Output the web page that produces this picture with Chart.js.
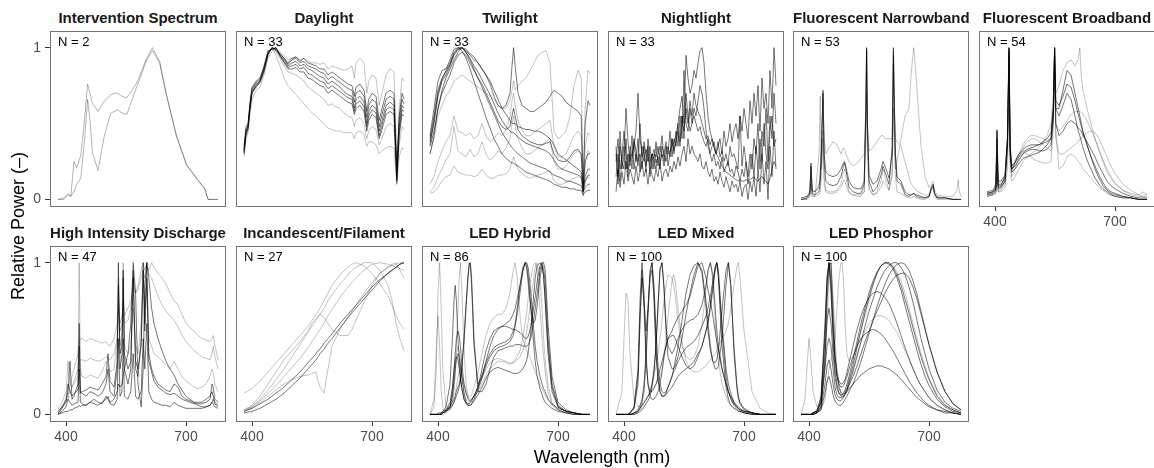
<!DOCTYPE html>
<html><head><meta charset="utf-8">
<script src="https://cdn.jsdelivr.net/npm/chart.js@4/dist/chart.umd.min.js"></script>
<style>
body{margin:0;background:#fff;width:1154px;height:468px;position:relative;overflow:hidden;font-family:"Liberation Sans",Arial,sans-serif}
canvas{position:absolute}
.ttl{position:absolute;width:176px;text-align:center;font-weight:bold;font-size:15px;line-height:18px;color:#1a1a1a;white-space:nowrap}
.nlab{position:absolute;font-size:13px;line-height:15px;color:#000;white-space:nowrap}
.axt{position:absolute;font-size:18px;line-height:22px;color:#000;white-space:nowrap;text-align:center}
</style></head><body>
<script>
// ---------- labels ----------
const titles = ['Intervention Spectrum','Daylight','Twilight','Nightlight','Fluorescent Narrowband','Fluorescent Broadband','High Intensity Discharge','Incandescent/Filament','LED Hybrid','LED Mixed','LED Phosphor'];
const nValues = [2,33,33,33,53,54,47,27,86,100,100];
const xTicks = [400,700];
const yTicks = [0,1];
const xTitle = 'Wavelength (nm)';
const yTitle = 'Relative Power (\u2013)';

// ---------- Intervention ----------
const intWl = [380,395,405,412,420, 427,437,445,454,460, 466,480,496,512,521, 529,540,552,575,584, 600,616,634,651,676, 701,726,747,755,780];
const int1 = [0,.01,.04,.02,.25, .21,.29,.49,.76,.70, .63,.58,.65,.69,.70, .70,.68,.67,.76,.81, .92,1.0,.91,.69,.42, .23,.14,.07,0,0];
const int2 = [0,0,.03,.02,.05, .10,.14,.35,.66,.52, .31,.19,.42,.57,.58, .59,.57,.56,.73,.79, .91,.98,.90,.69,.42, .23,.14,.07,0,0];

// ---------- Daylight ----------
const dayWl = [380,385,390,395,400, 410,420,430,440,450, 460,470,480,490,500, 510,520,530,540,550, 560,570,580,590,600, 610,620,630,640,650, 656,660,670,680,687, 692,700,710,718,725, 735,745,755,762,768, 775,780];
const day1 = [.32,.45,.48,.62,.72, .76,.78,.86,.97,1.0, .99,.96,.93,.90,.93, .94,.91,.93,.90,.89, .88,.86,.86,.82,.84, .82,.80,.78,.76,.75, .68,.74,.76,.72,.58, .66,.70,.68,.52,.60, .70,.72,.70,.20,.55, .70,.66];
const day2 = [.30,.42,.46,.60,.70, .74,.77,.84,.95,1.0, .98,.95,.92,.88,.90, .91,.88,.89,.86,.85, .83,.81,.80,.76,.78, .76,.74,.71,.69,.68, .60,.66,.68,.64,.50, .58,.62,.60,.45,.52, .62,.64,.62,.15,.48, .62,.60];
const day3 = [.35,.48,.50,.64,.74, .78,.80,.88,.98,.99, 1.0,.94,.90,.86,.86, .87,.84,.84,.80,.79, .77,.75,.74,.70,.72, .70,.68,.66,.64,.63, .56,.60,.62,.58,.45, .52,.56,.54,.40,.46, .56,.58,.56,.12,.42, .56,.55];
const day4 = [.28,.40,.44,.56,.66, .72,.74,.82,.93,.98, 1.0,.97,.95,.92,.93, .94,.92,.93,.91,.90, .90,.89,.90,.86,.88, .87,.86,.85,.86,.88, .80,.90,.93,.90,.70, .78,.82,.80,.62,.70, .82,.86,.84,.25,.60, .80,.78];
const day5 = [.30,.44,.47,.60,.70, .74,.78,.85,.96,1.0, .97,.93,.88,.84,.83, .82,.80,.78,.74,.72, .70,.68,.66,.62,.63, .61,.60,.57,.55,.54, .48,.52,.54,.50,.40, .45,.48,.46,.36,.40, .48,.50,.48,.10,.36, .48,.46];
const day6 = [.32,.45,.48,.60,.70, .75,.78,.86,.96,1.0, .95,.88,.80,.75,.72, .69,.66,.63,.60,.57, .55,.52,.50,.47,.46, .45,.45,.44,.44,.44, .40,.44,.45,.43,.35, .38,.38,.36,.30,.32, .34,.35,.34,.10,.28, .34,.33];
const day7 = [.31,.44,.47,.61,.71, .75,.78,.85,.96,1.0, .99,.96,.93,.89,.92, .93,.90,.91,.88,.87, .86,.84,.83,.79,.81, .79,.77,.75,.73,.72, .64,.70,.72,.68,.54, .62,.66,.64,.48,.56, .66,.68,.66,.18,.52, .66,.63];
const day8 = [.33,.46,.49,.63,.73, .77,.79,.87,.97,.99, 1.0,.95,.91,.87,.88, .89,.86,.87,.83,.82, .80,.78,.77,.73,.75, .73,.71,.69,.67,.66, .58,.63,.65,.61,.48, .55,.59,.57,.42,.49, .59,.61,.59,.13,.45, .59,.58];

// ---------- Twilight ----------
const twiWl = [380,390,400,410,420, 430,440,450,460,470, 480,490,500,510,520, 530,540,550,560,570, 580,585,589,593,600, 610,620,630,640,650, 660,670,680,690,700, 710,720,730,740,750, 758,763,768,775,780];
const tw1 = [.40,.55,.72,.80,.85, .90,.97,1.0,1.0,.97, .92,.86,.80,.74,.68, .62,.56,.50,.44,.40, .36,.34,.33,.32,.30, .28,.26,.24,.23,.22, .21,.20,.18,.16,.15, .14,.12,.12,.11,.10, .09,.05,.08,.10,.10];
const tw2 = [.38,.50,.68,.78,.82, .88,.95,.99,1.0,.98, .95,.92,.90,.86,.82, .78,.72,.66,.60,.56, .52,.50,.50,.50,.48, .47,.46,.46,.45,.45, .44,.42,.40,.36,.30, .28,.26,.24,.22,.20, .18,.08,.15,.20,.20];
const tw3 = [.35,.45,.60,.72,.80, .86,.92,.97,1.0,.99, .96,.94,.90,.86,.82, .76,.68,.62,.60,.62, .70,.88,1.0,.88,.70, .62,.60,.58,.58,.60, .62,.64,.68,.72,.70, .68,.64,.62,.60,.58, .55,.10,.50,.65,.62];
const tw4 = [.30,.40,.55,.62,.68, .72,.78,.80,.82,.80, .78,.76,.74,.72,.70, .68,.66,.62,.60,.60, .65,.72,.78,.72,.75, .78,.80,.85,.90,.95, .97,.98,.90,.45,.40, .42,.45,.55,.75,.85, .80,.10,.60,.85,.83];
const tw5 = [.05,.08,.15,.20,.26, .30,.48,.32,.30,.28, .33,.28,.30,.38,.30, .26,.28,.32,.30,.34, .40,.50,.55,.48,.40, .34,.30,.30,.32,.34, .36,.38,.40,.25,.20, .20,.22,.26,.30,.32, .30,.04,.25,.32,.30];
const tw6 = [.04,.05,.08,.12,.15, .16,.22,.18,.17,.16, .16,.15,.16,.20,.16, .14,.14,.16,.16,.17, .20,.25,.28,.25,.20, .17,.15,.14,.15,.16, .17,.18,.19,.12,.10, .10,.11,.12,.14,.15, .14,.02,.12,.15,.14];
const tw7 = [.30,.42,.60,.70,.76, .82,.90,.95,.97,.95, .90,.85,.80,.76,.70, .64,.58,.52,.48,.46, .48,.55,.60,.55,.46, .42,.40,.38,.37,.36, .36,.37,.38,.30,.26, .25,.25,.28,.32,.33, .30,.05,.25,.30,.30];
const tw8 = [.42,.60,.78,.85,.86, .92,.99,1.0,.98,.93, .86,.78,.70,.62,.54, .47,.40,.35,.30,.27, .25,.24,.24,.23,.22, .20,.18,.17,.16,.15, .14,.13,.12,.10,.09, .08,.08,.07,.07,.06, .06,.03,.05,.06,.06];
const tw9 = [.10,.15,.25,.32,.38, .42,.55,.45,.44,.42, .44,.40,.42,.50,.42, .38,.40,.44,.42,.46, .55,.65,.70,.62,.52, .46,.42,.42,.44,.46, .48,.50,.52,.35,.28, .28,.30,.36,.42,.45, .42,.06,.35,.44,.42];
const tw10 = [.36,.52,.70,.79,.84, .89,.96,.99,1.0,.97, .93,.88,.84,.79,.74, .69,.63,.57,.52,.48, .45,.44,.44,.43,.41, .39,.37,.36,.35,.34, .33,.32,.30,.26,.22, .20,.19,.18,.17,.16, .15,.06,.12,.16,.16];

// ---------- Nightlight ----------
const nightWl = [380,385,390,395,400,405,410,415,420,425, 430,435,440,445,450,455,460,465,470,475, 480,485,490,495,500,505,510,515,520,525, 530,535,540,545,550,555,560,565,570,575, 580,585,590,595,600,605,610,615,620,625, 630,635,640,645,650,655,660,665,670,675, 680,685,690,695,700,705,710,715,720,725, 730,735,740,745,750,755,760,765,770,775, 780];
const nl1 = [.15,.30,.12,.25,.35,.20,.30,.22,.28,.35, .45,.70,.40,.30,.25,.33,.28,.22,.30,.26, .20,.30,.35,.28,.30,.25,.30,.32,.35,.38, .42,.50,.60,.68,.50,.95,.80,.70,.75,.85, .80,.90,.98,1.0,.90,.70,.55,.45,.40,.35, .30,.28,.25,.22,.20,.18,.17,.16,.15,.14, .13,.12,.13,.12,.12,.13,.12,.13,.14,.15, .13,.12,.14,.15,.13,.12,.10,.14,.20,.25, .22];
const nl2 = [.35,.10,.45,.20,.30,.60,.38,.25,.42,.20, .30,.22,.50,.28,.35,.18,.40,.25,.30,.20, .38,.22,.30,.42,.25,.35,.30,.45,.28,.40, .35,.50,.38,.55,.45,.60,.50,.65,.55,.70, .62,.58,.55,.50,.45,.40,.42,.36,.40,.34, .30,.38,.28,.32,.25,.30,.22,.35,.28,.30, .25,.20,.55,.22,.35,.25,.15,.30,.20,.40, .30,.50,.20,.45,.35,.60,.25,.55,.40,.70, .50];
const nl3 = [.05,.20,.08,.18,.10,.25,.12,.20,.15,.10, .22,.12,.18,.25,.15,.20,.10,.22,.16,.12, .20,.15,.25,.12,.18,.20,.15,.22,.18,.25, .20,.28,.22,.30,.35,.25,.40,.30,.35,.30, .28,.25,.30,.22,.20,.25,.18,.15,.20,.12, .15,.10,.18,.12,.08,.15,.10,.05,.12,.08, .10,.05,.12,.02,.08,.10,.00,.12,.05,.15, .02,.20,.05,.30,.10,.25,.00,.35,.15,.45, .20];
const nl4 = [.25,.40,.20,.30,.45,.30,.20,.35,.28,.40, .32,.25,.30,.20,.38,.30,.25,.35,.20,.30, .28,.35,.25,.30,.22,.30,.35,.28,.40,.30, .45,.35,.55,.40,.85,.50,.45,.60,.50,.55, .50,.45,.48,.42,.38,.35,.40,.30,.35,.38, .30,.35,.40,.30,.45,.35,.40,.50,.38,.45, .50,.40,.55,.45,.60,.50,.40,.65,.50,.70, .55,.75,.45,.80,.60,.70,.50,.85,.60,1.0, .75];
const nl5 = [.30,.15,.35,.25,.20,.40,.15,.30,.20,.38, .25,.40,.18,.35,.30,.22,.35,.15,.28,.33, .24,.28,.20,.35,.30,.38,.22,.30,.40,.32, .38,.45,.35,.55,.40,.70,.55,.45,.50,.60, .55,.65,.75,.70,.60,.45,.35,.30,.25,.30, .22,.25,.20,.28,.18,.22,.25,.18,.20,.15, .22,.18,.12,.20,.15,.25,.10,.20,.30,.15, .35,.20,.40,.25,.50,.30,.20,.45,.55,.35, .40];

// ---------- Fluorescent Narrowband ----------
const fnWl = [380,395,402,405,408,415,425,428,431,435, 438,442,450,460,470,480,486,489,492,500, 510,520,530,538,542,544,546,550,560,570, 580,585,590,600,608,611,613,616,620,630, 640,650,656,662,668,680,690,700,706,710, 714,720,740,760,770,773,776,780];
const fn1 = [.00,.01,.04,.24,.04,.03,.05,.10,.30,.72, .25,.12,.10,.09,.10,.15,.22,.24,.20,.08, .05,.04,.04,.10,.60,1.0,.50,.12,.05,.08, .16,.22,.18,.10,.35,1.0,.70,.30,.12,.10, .03,.02,.03,.04,.02,.01,.01,.02,.08,.10, .04,.01,.01,.00,.00,.00,.00,.00];
const fn2 = [.00,.00,.02,.15,.03,.02,.30,.68,.20,.45, .15,.06,.05,.05,.06,.10,.18,.20,.15,.05, .03,.02,.02,.05,.50,.98,.40,.08,.03,.05, .12,.20,.15,.06,.20,.90,.50,.15,.05,.04, .02,.01,.01,.02,.01,.00,.00,.01,.06,.08, .02,.00,.00,.00,.00,.00,.00,.00];
const fn3 = [.00,.01,.03,.20,.05,.05,.10,.20,.40,.66, .40,.30,.34,.38,.36,.30,.34,.33,.30,.25, .22,.24,.27,.30,.60,1.0,.50,.32,.34,.38, .42,.42,.40,.40,.40,.98,.60,.40,.38,.35, .25,.15,.10,.08,.06,.04,.03,.03,.08,.10, .04,.02,.01,.00,.00,.00,.00,.00];
const fn4 = [.00,.00,.02,.10,.02,.02,.03,.05,.15,.40, .10,.05,.04,.04,.05,.08,.12,.13,.10,.04, .03,.03,.03,.05,.40,.70,.30,.06,.03,.04, .08,.12,.10,.06,.15,.60,.40,.20,.25,.40, .55,.60,.85,1.0,.80,.35,.15,.08,.10,.12, .06,.03,.02,.02,.06,.13,.05,.02];
const fn5 = [.01,.02,.05,.22,.06,.05,.08,.14,.32,.70, .30,.18,.16,.15,.16,.20,.24,.25,.22,.12, .08,.07,.07,.12,.55,.98,.50,.16,.10,.12, .20,.25,.22,.14,.30,.95,.65,.30,.15,.12, .05,.03,.03,.04,.03,.02,.01,.02,.07,.09, .04,.01,.01,.00,.00,.00,.00,.00];

// ---------- Fluorescent Broadband ----------
const fbWl = [380,395,402,405,408,415,425,431,435,438, 442,450,460,470,480,490,500,510,520,530, 540,546,549,552,560,570,580,590,600,608, 612,616,620,630,640,650,660,670,680,690, 700,720,740,760,770,780];
const fb1 = [.04,.05,.08,.45,.10,.10,.15,.40,1.0,.35, .22,.25,.30,.33,.35,.36,.36,.36,.37,.38, .40,.60,1.0,.50,.42,.45,.50,.52,.50,.47, .46,.45,.42,.38,.33,.28,.22,.17,.12,.09, .07,.04,.02,.01,.01,.01];
const fb2 = [.03,.04,.06,.30,.08,.08,.12,.35,.95,.30, .18,.20,.24,.27,.28,.29,.30,.31,.33,.36, .40,.60,.98,.60,.60,.72,.85,.82,.70,.60, .55,.50,.45,.36,.28,.20,.14,.09,.06,.04, .03,.02,.01,.00,.00,.00];
const fb3 = [.02,.03,.04,.15,.05,.05,.08,.20,.60,.20, .12,.15,.20,.25,.28,.30,.32,.34,.38,.42, .50,.70,1.0,.70,.75,.85,.90,.92,.88,.92, 1.0,.80,.72,.60,.50,.40,.32,.25,.18,.14, .10,.06,.04,.03,.05,.03];
const fb4 = [.02,.03,.04,.20,.05,.06,.10,.30,.85,.25, .15,.20,.28,.34,.38,.40,.40,.38,.36,.34, .32,.50,.90,.40,.30,.30,.32,.34,.36,.38, .40,.40,.42,.44,.45,.44,.40,.34,.28,.22, .17,.10,.06,.03,.02,.02];
const fb5 = [.05,.06,.10,.46,.12,.12,.16,.40,.98,.35, .20,.22,.26,.30,.32,.33,.33,.32,.32,.33, .36,.55,1.0,.60,.55,.62,.70,.66,.55,.45, .42,.38,.34,.26,.20,.14,.10,.07,.05,.03, .02,.01,.01,.00,.00,.00];
const fb6 = [.02,.03,.05,.20,.06,.07,.12,.35,1.0,.30, .20,.25,.30,.32,.30,.28,.26,.25,.24,.24, .25,.50,1.0,.45,.20,.22,.28,.30,.28,.25, .24,.22,.20,.17,.14,.11,.08,.06,.04,.03, .02,.01,.01,.00,.00,.00];
const fb7 = [.04,.05,.07,.40,.09,.09,.14,.38,1.0,.32, .20,.24,.28,.31,.33,.34,.35,.36,.38,.40, .44,.62,1.0,.65,.62,.68,.76,.74,.65,.56, .52,.48,.44,.36,.28,.22,.16,.11,.07,.05, .04,.02,.01,.00,.00,.00];
const fb8 = [.03,.04,.06,.25,.07,.08,.13,.35,.90,.28, .18,.24,.30,.36,.40,.42,.42,.41,.40,.39, .40,.55,.95,.50,.45,.48,.52,.56,.58,.58, .58,.57,.56,.52,.46,.40,.33,.26,.20,.15, .11,.06,.03,.02,.02,.04];

// ---------- High Intensity Discharge ----------
const hidWl = [380,390,400,405,410,415,420,430,433,436, 440,450,460,470,480,490,500,505,510,520, 528,531,535,540,543,546,555,562,568,574, 580,588,593,597,602,607,614,620,630,640, 650,660,670,680,690,700,710,720,730,740, 750,760,765,768,772,780];
const hid1 = [.02,.05,.08,.15,.35,.10,.12,.20,.60,.15, .14,.12,.15,.14,.12,.14,.20,.30,.15,.12, .30,1.0,.30,.40,.90,.30,.20,.30,.95,.30, .25,.50,1.0,.60,1.0,.40,.30,.25,.20,.18, .16,.15,.20,.18,.12,.10,.09,.08,.08,.08, .10,.12,.15,.12,.08,.06];
const hid2 = [.00,.05,.10,.12,.20,.25,.30,.40,.47,.50, .50,.48,.50,.49,.48,.47,.48,.46,.45,.50, .60,.75,.60,.65,.70,.65,.70,.75,.85,.80, .82,.90,.95,.90,.98,.95,1.0,.97,.93,.90, .86,.80,.75,.72,.66,.60,.57,.55,.52,.50, .49,.48,.50,.52,.46,.36];
const hid3 = [.00,.01,.02,.02,.03,.03,.04,.05,.06,.05, .06,.06,.08,.10,.08,.07,.12,.10,.08,.10, .15,.20,.18,.20,.25,.30,.40,.60,1.0,.80, .20,.05,.30,.85,1.0,.90,.70,.60,.50,.42, .35,.30,.26,.20,.16,.12,.10,.08,.06,.05, .05,.06,.08,.10,.07,.05];
const hid4 = [.03,.08,.15,.35,.20,.18,.20,.25,1.0,.30, .25,.24,.26,.25,.24,.28,.35,.32,.28,.30, .50,.90,.45,.50,1.0,.45,.40,.45,.70,.45, .40,.60,.90,.70,.85,.50,.45,.40,.38,.35, .33,.30,.35,.30,.25,.22,.20,.18,.17,.18, .20,.25,.30,.28,.20,.15];
const hid5 = [.00,.02,.05,.10,.08,.06,.07,.08,.30,.08, .07,.06,.08,.07,.06,.08,.10,.12,.07,.06, .10,.50,.12,.15,.50,.12,.10,.15,.40,.12, .10,.15,.50,.30,.60,.15,.10,.08,.07,.06, .06,.05,.08,.06,.05,.04,.04,.04,.04,.04, .05,.06,.08,.07,.05,.04];
const hid6 = [.01,.04,.10,.20,.15,.12,.14,.16,.45,.14, .15,.16,.18,.17,.16,.20,.25,.40,.22,.18, .35,.85,.40,.45,.95,.40,.30,.35,.90,.35, .30,.45,.95,.55,.90,.35,.28,.22,.18,.16, .14,.13,.14,.12,.10,.09,.08,.07,.07,.07, .08,.10,.20,.18,.10,.08];
const hid7 = [.00,.04,.08,.10,.15,.18,.22,.30,.35,.36, .36,.35,.37,.36,.35,.36,.38,.37,.36,.40, .50,.70,.55,.60,.75,.60,.62,.70,.90,.80, .85,.95,1.0,.95,1.0,.92,.90,.85,.78,.72, .68,.65,.62,.58,.52,.48,.45,.42,.40,.38, .37,.36,.40,.45,.38,.30];

// ---------- Incandescent/Filament ----------
const incWl = [380,400,420,440,460,480,500,520,540,550, 560,565,570,580,590,600,620,640,650,660, 680,700,720,740,750,760,770,780];
const inc1 = [.02,.04,.07,.10,.14,.18,.23,.28,.34,.37, .40,.42,.43,.47,.50,.53,.60,.66,.69,.72, .78,.84,.89,.93,.95,.97,.99,1.0];
const inc2 = [.01,.02,.04,.07,.10,.14,.19,.24,.30,.33, .36,.38,.40,.43,.47,.50,.57,.64,.67,.70, .76,.82,.88,.93,.95,.97,.99,1.0];
const inc3 = [.14,.17,.22,.28,.34,.40,.46,.52,.58,.62, .66,.68,.70,.75,.80,.85,.92,.97,.99,1.0, .98,.93,.86,.78,.72,.65,.60,.56];
const inc4 = [.02,.04,.08,.12,.16,.20,.23,.25,.26,.27, .28,.22,.18,.14,.30,.45,.56,.64,.68,.72, .80,.87,.93,.97,.98,.99,1.0,1.0];
const inc5 = [.03,.06,.12,.20,.28,.36,.42,.48,.55,.60, .63,.65,.66,.64,.60,.56,.52,.52,.56,.62, .74,.85,.93,.97,.99,1.0,.95,.90];
const inc6 = [.02,.05,.10,.16,.23,.30,.38,.46,.54,.58, .62,.64,.66,.70,.75,.79,.86,.92,.95,.97, 1.0,1.0,.95,.85,.75,.60,.50,.42];
const inc7 = [.03,.05,.09,.14,.19,.25,.31,.37,.44,.48, .52,.54,.56,.60,.65,.69,.77,.84,.87,.90, .95,.99,1.0,.99,.98,.97,.96,.95];

// ---------- LED Hybrid ----------
const hyWl = [380,390,396,400,404,408,412,420,430,436, 440,443,446,450,453,456,459,465,470,475, 478,481,484,490,500,510,520,530,540,550, 560,570,580,588,593,598,605,612,618,622, 626,632,638,643,648,655,660,664,668,675, 685,700,720,740,760,780];
const hy1 = [0,0,0,.01,.01,.01,.02,.03,.05,.08, .10,.12,.15,.18,.20,.25,.30,.50,.70,.90, .98,1.0,.90,.50,.15,.15,.20,.30,.38,.42, .43,.44,.45,.45,.46,.46,.46,.45,.45,.45, .46,.50,.60,.70,.80,.95,1.0,1.0,.95,.60, .25,.08,.03,.01,0,0];
const hy2 = [0,0,0,0,0,0,.01,.02,.06,.15, .28,.40,.50,.55,.52,.45,.35,.20,.14,.10, .09,.09,.10,.12,.18,.30,.42,.50,.55,.57, .58,.60,.62,.66,.70,.76,.85,.95,1.0,1.0, .96,.80,.60,.45,.35,.25,.20,.17,.15,.10, .07,.04,.02,.01,0,0];
const hy3 = [0,0,0,0,0,0,0,.01,.03,.08, .15,.25,.45,.70,.90,1.0,.85,.45,.20,.12, .10,.10,.10,.12,.15,.20,.26,.30,.33,.35, .35,.34,.33,.34,.36,.38,.42,.50,.60,.68, .78,.90,.98,1.0,.95,.70,.50,.38,.28,.15, .07,.03,.01,0,0,0];
const hy4 = [0,.05,.30,.80,1.0,.70,.30,.05,.03,.05, .08,.12,.18,.25,.28,.30,.28,.20,.15,.12, .12,.12,.13,.18,.28,.40,.52,.60,.64,.66, .66,.70,.80,.95,1.0,.90,.65,.50,.45,.42, .40,.36,.32,.28,.25,.20,.17,.15,.13,.10, .06,.03,.01,0,0,0];
const hy5 = [0,0,0,0,0,0,.01,.02,.05,.12, .22,.30,.36,.40,.38,.32,.25,.14,.08,.06, .06,.06,.07,.09,.13,.18,.24,.28,.30,.31, .30,.29,.28,.27,.27,.27,.28,.30,.33,.36, .42,.55,.75,.90,.98,1.0,.98,.90,.75,.45, .18,.05,.02,.01,0,0];
const hy6 = [0,0,0,0,0,.01,.02,.05,.20,.50, .75,.85,.75,.50,.35,.25,.18,.10,.08,.07, .07,.08,.09,.12,.18,.26,.34,.40,.44,.46, .47,.48,.50,.55,.60,.70,.85,.97,1.0,.98, .90,.70,.50,.35,.25,.17,.13,.10,.08,.06, .04,.02,.01,0,0,0];
const hy7 = [0,.10,.45,.65,.45,.15,.05,.02,.04,.10, .20,.30,.40,.45,.42,.35,.28,.15,.10,.08, .08,.08,.09,.12,.18,.24,.30,.34,.36,.37, .36,.35,.34,.34,.35,.36,.38,.42,.48,.55, .62,.75,.88,.97,1.0,.90,.70,.50,.35,.20, .08,.03,.01,0,0,0];
const hy8 = [0,0,0,0,0,.01,.01,.02,.04,.06, .08,.10,.12,.15,.18,.22,.28,.48,.72,.92, 1.0,.98,.85,.45,.20,.25,.35,.45,.52,.56, .58,.58,.57,.56,.56,.55,.54,.52,.50,.50, .52,.58,.68,.78,.88,.98,1.0,.96,.88,.50, .20,.06,.02,.01,0,0];
const hy9 = [0,0,0,0,0,0,.01,.03,.08,.18, .30,.36,.38,.36,.30,.24,.18,.10,.07,.06, .06,.06,.07,.10,.16,.24,.32,.38,.42,.44, .45,.46,.48,.52,.58,.66,.80,.94,1.0,.96, .85,.70,.60,.62,.72,.90,.98,.92,.75,.40, .15,.05,.02,.01,0,0];

// ---------- LED Mixed ----------
const mxWl = [380,395,400,405,410,415,425,435,440,445, 450,455,460,465,470,475,480,485,490,495, 500,505,510,520,524,528,535,545,555,565, 575,585,595,605,610,616,622,628,632,636, 645,655,661,667,675,682,686,690,700,720, 740,760,780];
const mx1 = [0,0,0,0,0,.01,.05,.30,.75,1.0, .80,.40,.20,.12,.10,.10,.12,.15,.20,.28, .38,.45,.50,.52,.52,.50,.45,.38,.32,.30, .32,.38,.45,.55,.62,.72,.85,.97,1.0,.90, .45,.18,.10,.06,.04,.03,.02,.02,.01,0, 0,0,0];
const mx2 = [0,0,0,0,0,0,.01,.03,.06,.10, .20,.40,.70,.95,1.0,.85,.55,.32,.20,.15, .14,.15,.18,.25,.30,.35,.45,.62,.80,.92, .98,1.0,.95,.75,.60,.45,.35,.30,.30,.32, .50,.85,1.0,.85,.45,.20,.12,.08,.04,.01, 0,0,0];
const mx3 = [0,0,0,0,0,0,0,.02,.04,.06, .08,.10,.12,.15,.20,.30,.45,.70,.95,1.0, .85,.60,.45,.40,.42,.45,.50,.56,.60,.62, .63,.66,.72,.85,.95,1.0,.92,.70,.55,.45, .30,.20,.15,.12,.08,.06,.05,.04,.02,.01, 0,0,0];
const mx4 = [0,.15,.50,.80,.75,.40,.10,.05,.05,.06, .08,.10,.12,.14,.16,.18,.20,.22,.25,.30, .38,.50,.65,.88,.92,.88,.70,.48,.35,.30, .28,.28,.30,.32,.34,.36,.38,.40,.42,.45, .50,.55,.60,.70,.85,.97,1.0,.90,.55,.15, .04,.01,0];
const mx5 = [0,0,0,0,0,.01,.04,.20,.60,.95, .70,.35,.20,.15,.15,.17,.20,.25,.30,.35, .40,.45,.50,.55,.58,.60,.64,.68,.72,.78, .88,.98,1.0,.90,.82,.75,.65,.55,.48,.42, .30,.20,.15,.11,.07,.05,.04,.03,.02,.01, 0,0,0];
const mx6 = [0,0,0,0,0,0,.01,.02,.04,.08, .15,.35,.65,.92,1.0,.80,.45,.25,.15,.12, .12,.13,.15,.18,.20,.22,.25,.28,.30,.32, .35,.40,.45,.55,.60,.70,.82,.95,1.0,.95, .60,.30,.20,.14,.08,.05,.04,.03,.02,.01, 0,0,0];
const mx7 = [0,0,0,0,0,0,0,.01,.02,.03, .05,.07,.09,.12,.18,.28,.45,.72,.96,1.0, .82,.55,.38,.30,.30,.32,.38,.50,.66,.80, .92,1.0,.93,.70,.55,.42,.35,.34,.36,.42, .68,.95,1.0,.85,.40,.18,.10,.07,.03,.01, 0,0,0];
const mx8 = [0,0,0,0,0,0,.01,.02,.03,.05, .07,.09,.12,.15,.20,.25,.32,.40,.50,.62, .75,.85,.92,.90,.85,.78,.62,.45,.38,.36, .38,.45,.60,.82,.95,1.0,.88,.62,.45,.35, .20,.12,.08,.06,.04,.03,.02,.02,.01,0, 0,0,0];
const mx9 = [0,0,0,0,0,.01,.04,.25,.65,.90, .75,.55,.70,.90,.95,.75,.40,.22,.15,.12, .12,.14,.18,.25,.28,.30,.35,.40,.44,.46, .48,.52,.58,.65,.70,.78,.88,.97,1.0,.92, .55,.25,.15,.10,.06,.04,.03,.02,.01,0, 0,0,0];

// ---------- LED Phosphor ----------
const phWl = [380,390,396,400,404,410,420,430,440,445, 450,455,460,465,470,475,480,483,486,490, 495,500,510,520,530,540,550,560,570,580, 590,600,610,620,630,640,650,660,670,680, 690,700,720,740,760,780];
const ph1 = [0,0,0,0,0,.01,.03,.12,.60,.90, 1.0,.85,.55,.35,.25,.20,.18,.18,.19,.21, .25,.30,.38,.45,.50,.53,.55,.56,.55,.53, .50,.46,.42,.37,.32,.27,.22,.18,.14,.11, .08,.06,.03,.02,.01,0];
const ph2 = [0,0,0,0,0,0,.01,.04,.20,.32, .36,.30,.20,.13,.10,.09,.09,.10,.11,.13, .16,.20,.28,.38,.48,.58,.68,.76,.84,.90, .95,.98,1.0,1.0,.97,.92,.84,.74,.62,.50, .40,.30,.16,.08,.04,.02];
const ph3 = [0,0,0,0,0,.01,.02,.08,.40,.62, .70,.60,.40,.25,.17,.14,.13,.13,.14,.16, .20,.25,.36,.48,.60,.70,.80,.88,.94,.98, 1.0,.99,.96,.90,.82,.72,.62,.52,.42,.33, .25,.19,.10,.05,.02,.01];
const ph4 = [0,0,0,0,0,0,.01,.03,.10,.20, .30,.35,.40,.50,.70,.90,1.0,1.0,.90,.60, .40,.35,.38,.45,.55,.65,.75,.85,.93,.98, 1.0,1.0,.98,.94,.88,.80,.70,.60,.50,.40, .32,.24,.13,.06,.03,.01];
const ph5 = [0,.10,.35,.50,.40,.15,.05,.08,.30,.60, .90,1.0,.80,.50,.30,.20,.15,.14,.14,.15, .18,.22,.30,.40,.48,.55,.60,.63,.65,.65, .64,.62,.58,.54,.48,.42,.36,.30,.24,.19, .15,.11,.06,.03,.01,0];
const ph6 = [0,0,0,0,0,0,.01,.05,.35,.75, .98,1.0,.70,.40,.25,.18,.14,.13,.13,.14, .16,.19,.25,.32,.40,.48,.55,.62,.68,.74, .80,.85,.89,.92,.93,.93,.90,.84,.76,.66, .56,.46,.28,.15,.07,.03];
const ph7 = [0,0,0,0,0,.01,.02,.10,.55,.90, 1.0,.80,.50,.30,.20,.14,.12,.12,.12,.13, .15,.17,.20,.23,.26,.28,.30,.31,.32,.32, .31,.30,.28,.26,.23,.20,.17,.14,.11,.09, .07,.05,.03,.01,.01,0];
const ph8 = [0,0,0,0,0,0,.01,.03,.14,.22, .25,.20,.13,.09,.07,.06,.06,.07,.08,.10, .12,.15,.20,.27,.35,.44,.53,.62,.71,.79, .86,.92,.96,.99,1.0,.99,.95,.88,.79,.68, .57,.46,.28,.15,.07,.03];
const ph9 = [0,0,0,0,0,.01,.02,.08,.50,.85, 1.0,.90,.60,.38,.27,.22,.20,.20,.21,.23, .28,.34,.45,.56,.65,.72,.77,.80,.81,.80, .77,.73,.67,.60,.52,.44,.37,.30,.24,.19, .15,.11,.06,.03,.01,0];
const ph10 = [0,0,0,0,0,0,.01,.06,.30,.45, .50,.45,.30,.18,.13,.11,.11,.11,.12,.14, .17,.22,.32,.44,.56,.67,.77,.86,.93,.98, 1.0,1.0,.97,.92,.85,.76,.67,.57,.47,.38, .30,.23,.12,.06,.03,.01];

// ---------- panel assembly (d = dark line, l = light line, m = medium) ----------
const panelWl = [intWl, dayWl, twiWl, nightWl, fnWl, fbWl, hidWl, incWl, hyWl, mxWl, phWl];
const panelCurves = [
  [[int1,'m'],[int2,'m']],
  [[day1,'d'],[day2,'d'],[day3,'d'],[day4,'l'],[day5,'l'],[day6,'l'],[day7,'d'],[day8,'d']],
  [[tw1,'d'],[tw2,'d'],[tw3,'d'],[tw4,'l'],[tw5,'l'],[tw6,'l'],[tw7,'d'],[tw8,'d'],[tw9,'l'],[tw10,'d']],
  [[nl1,'d'],[nl2,'d'],[nl3,'d'],[nl4,'d'],[nl5,'d']],
  [[fn1,'d'],[fn2,'l'],[fn3,'l'],[fn4,'l'],[fn5,'d']],
  [[fb1,'d'],[fb2,'d'],[fb3,'l'],[fb4,'l'],[fb5,'d'],[fb6,'l'],[fb7,'d'],[fb8,'l']],
  [[hid1,'d'],[hid2,'l'],[hid3,'d'],[hid4,'l'],[hid5,'d'],[hid6,'d'],[hid7,'l']],
  [[inc1,'d'],[inc2,'d'],[inc3,'l'],[inc4,'l'],[inc5,'l'],[inc6,'l'],[inc7,'l']],
  [[hy1,'d'],[hy2,'d'],[hy3,'l'],[hy4,'l'],[hy5,'d'],[hy6,'d'],[hy7,'l'],[hy8,'d'],[hy9,'d']],
  [[mx1,'d'],[mx2,'d'],[mx3,'d'],[mx4,'l'],[mx5,'d'],[mx6,'d'],[mx7,'d'],[mx8,'l'],[mx9,'d']],
  [[ph1,'d'],[ph2,'d'],[ph3,'d'],[ph4,'l'],[ph5,'l'],[ph6,'d'],[ph7,'d'],[ph8,'d'],[ph9,'d'],[ph10,'d']]
];

// ---------- layout / style ----------
const FONT = '"Liberation Sans", Arial, sans-serif';
const tone = {d:'rgba(0,0,0,0.68)', l:'rgba(0,0,0,0.3)', m:'rgba(0,0,0,0.38)'};
const colLeft = [50,236,422,608,793,979];
const rowTop = [31,246];
const BOX = 176, AX_Y = 45, AX_X = 35;
const X_MIN = 360, X_MAX = 800, Y_MIN = -0.05, Y_MAX = 1.11;

Chart.defaults.font.family = FONT;

const boxPlugin = {
  id: 'panelBox',
  afterDatasetsDraw(chart) {
    const {ctx, chartArea: a} = chart;
    ctx.save();
    ctx.strokeStyle = '#737373';
    ctx.lineWidth = 1;
    ctx.strokeRect(Math.round(a.left) + 0.5, Math.round(a.top) + 0.5, Math.round(a.width) - 1, Math.round(a.height) - 1);
    ctx.restore();
  }
};

function zeroPad(s) { s.paddingTop = 0; s.paddingBottom = 0; s.paddingLeft = 0; s.paddingRight = 0; }

function addDiv(cls, text, left, top, extra) {
  const d = document.createElement('div');
  d.className = cls; d.textContent = text;
  d.style.left = left + 'px'; d.style.top = top + 'px';
  if (extra) Object.assign(d.style, extra);
  document.body.appendChild(d);
  return d;
}

titles.forEach((t, i) => {
  const row = i < 6 ? 0 : 1, col = i < 6 ? i : i - 6;
  const showX = row === 1 || i === 5, showY = col === 0;
  const wl = panelWl[i];
  const cv = document.createElement('canvas');
  const w = BOX + AX_Y, h = BOX + AX_X;
  cv.width = w; cv.height = h;
  cv.style.left = (colLeft[col] - AX_Y) + 'px';
  cv.style.top = rowTop[row] + 'px';
  cv.style.width = w + 'px'; cv.style.height = h + 'px';
  document.body.appendChild(cv);

  const datasets = panelCurves[i].map(([vals, tn], k) => {
    if (vals.length !== wl.length) throw new Error('length mismatch panel ' + i + ' curve ' + k + ': ' + vals.length + ' vs ' + wl.length);
    return {
      data: wl.map((x, j) => ({x: x, y: vals[j]})),
      borderColor: tone[tn], borderWidth: 0.8, pointRadius: 0, tension: 0, fill: false
    };
  });

  new Chart(cv, {
    type: 'line',
    data: {datasets},
    options: {
      responsive: false, animation: false, devicePixelRatio: 1, events: [],
      layout: {padding: 0, autoPadding: false},
      plugins: {legend: {display: false}, tooltip: {enabled: false}},
      scales: {
        x: {
          type: 'linear', min: X_MIN, max: X_MAX,
          afterBuildTicks: s => { s.ticks = xTicks.map(v => ({value: v})); },
          afterFit: s => { s.height = AX_X; zeroPad(s); },
          ticks: {display: showX, color: '#4d4d4d', font: {size: 14, family: FONT}, padding: 3, maxRotation: 0, autoSkip: false},
          grid: {display: showX, drawOnChartArea: false, drawTicks: true, tickLength: 4, color: '#333'},
          border: {display: false}
        },
        y: {
          type: 'linear', min: Y_MIN, max: Y_MAX,
          afterBuildTicks: s => { s.ticks = yTicks.map(v => ({value: v})); },
          afterFit: s => { s.width = AX_Y; zeroPad(s); },
          ticks: {display: showY, color: '#4d4d4d', font: {size: 14, family: FONT}, padding: 4},
          grid: {display: showY, drawOnChartArea: false, drawTicks: true, tickLength: 5, color: '#333'},
          border: {display: false}
        }
      }
    },
    plugins: [boxPlugin]
  });

  addDiv('ttl', t, colLeft[col], rowTop[row] - 22);
  addDiv('nlab', 'N = ' + nValues[i], colLeft[col] + 8, rowTop[row] + 3);
});

addDiv('axt', xTitle, 452, 446, {width: '300px'});
addDiv('axt', yTitle, 18 - 150, 226 - 11, {width: '300px', transform: 'rotate(-90deg)'});
</script>
</body></html>
